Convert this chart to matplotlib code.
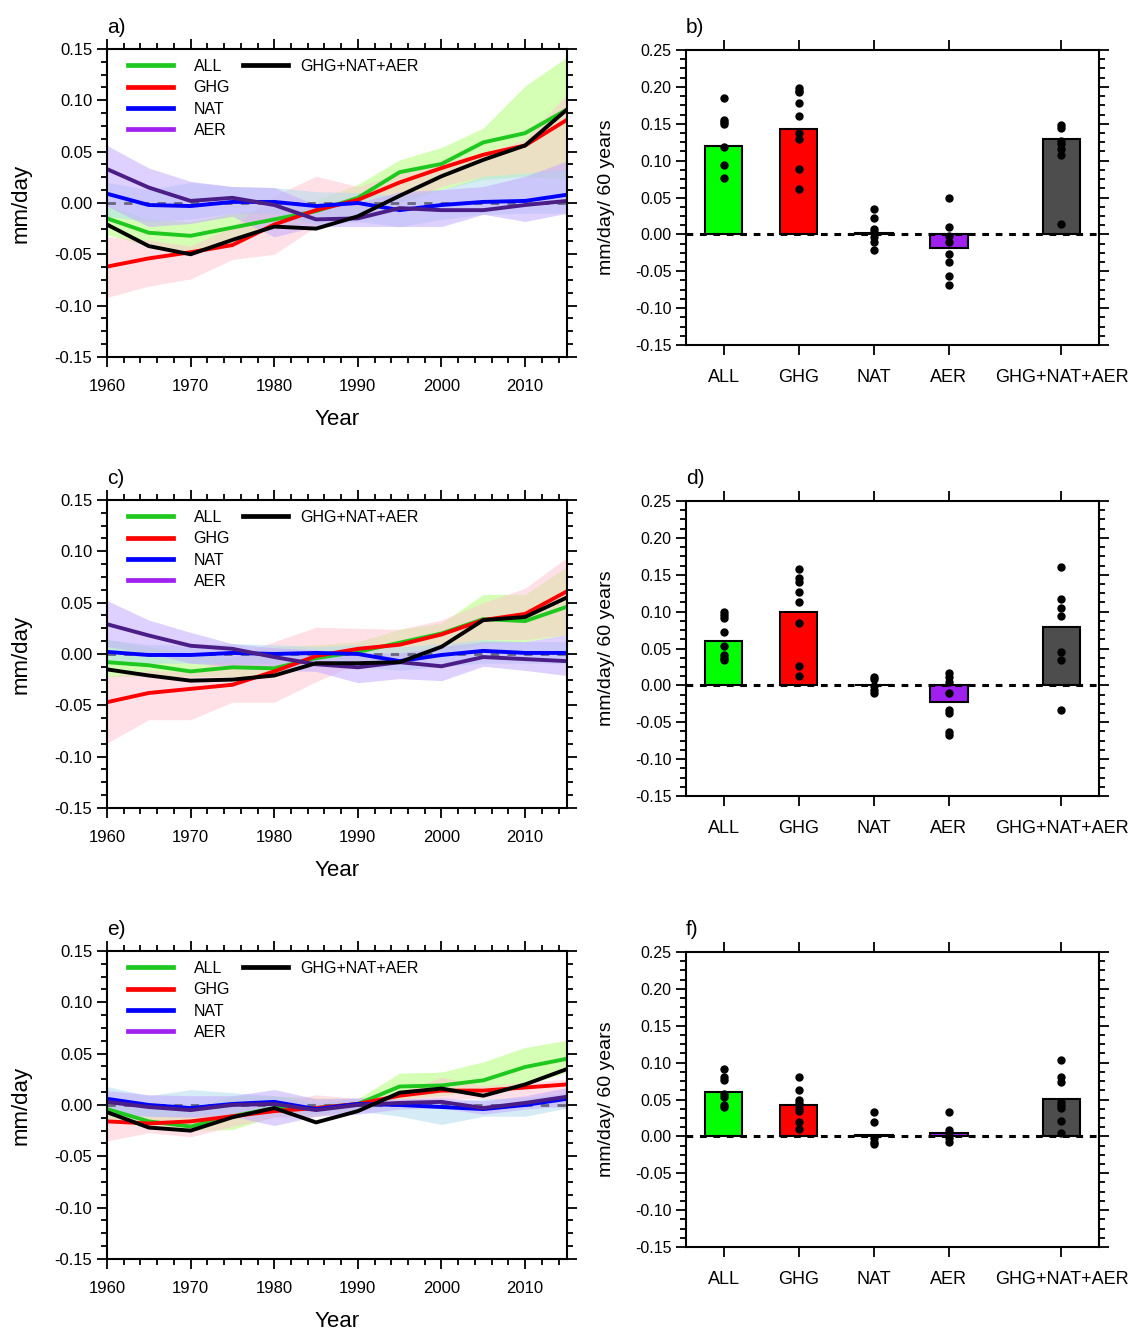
import matplotlib.pyplot as plt
from matplotlib.lines import Line2D
from matplotlib.ticker import MultipleLocator

plt.rcParams['font.family'] = ['Liberation Sans', 'DejaVu Sans']

# ---- time series data (mm/day) ----
years = [1960, 1965, 1970, 1975, 1980, 1985, 1990, 1995, 2000, 2005, 2010, 2015]

# panel a
a_all = [-0.015, -0.029, -0.032, -0.024, -0.016, -0.008, 0.005, 0.030, 0.038, 0.059, 0.068, 0.091]
a_ghg = [-0.062, -0.054, -0.048, -0.041, -0.021, -0.007, 0.003, 0.020, 0.034, 0.047, 0.056, 0.081]
a_nat = [0.009, -0.002, -0.003, 0.001, 0.001, -0.003, 0.000, -0.007, -0.002, 0.001, 0.002, 0.008]
a_aer = [0.033, 0.015, 0.002, 0.005, -0.002, -0.016, -0.015, -0.005, -0.007, -0.007, -0.002, 0.002]
a_sum = [-0.021, -0.042, -0.050, -0.036, -0.023, -0.025, -0.013, 0.007, 0.026, 0.042, 0.056, 0.091]
a_all_hi = [-0.002, -0.016, -0.018, -0.010, -0.005, 0.003, 0.018, 0.042, 0.054, 0.073, 0.114, 0.142]
a_all_lo = [-0.031, -0.042, -0.047, -0.036, -0.026, -0.018, -0.010, 0.000, 0.013, 0.023, 0.026, 0.023]
a_ghg_hi = [-0.033, -0.036, -0.042, -0.023, 0.007, 0.026, 0.016, 0.029, 0.039, 0.049, 0.062, 0.106]
a_ghg_lo = [-0.092, -0.081, -0.074, -0.055, -0.050, -0.023, -0.013, 0.000, 0.016, 0.026, 0.029, 0.031]
a_nat_hi = [0.020, 0.013, 0.020, 0.016, 0.015, 0.011, 0.010, 0.007, 0.013, 0.026, 0.029, 0.033]
a_nat_lo = [-0.013, -0.018, -0.016, -0.010, -0.010, -0.021, -0.018, -0.023, -0.016, -0.011, -0.010, -0.010]
a_aer_hi = [0.056, 0.034, 0.021, 0.016, 0.015, -0.002, 0.000, 0.011, 0.013, 0.016, 0.026, 0.041]
a_aer_lo = [-0.003, -0.023, -0.020, -0.013, -0.033, -0.023, -0.023, -0.023, -0.023, -0.011, -0.018, -0.010]

# panel c
c_all = [-0.008, -0.011, -0.017, -0.013, -0.014, -0.004, 0.002, 0.011, 0.020, 0.034, 0.032, 0.046]
c_ghg = [-0.047, -0.038, -0.034, -0.030, -0.017, -0.002, 0.005, 0.009, 0.019, 0.033, 0.039, 0.061]
c_nat = [0.002, -0.001, -0.001, 0.001, 0.000, 0.001, 0.000, -0.007, -0.001, 0.003, 0.001, 0.001]
c_aer = [0.029, 0.018, 0.008, 0.005, -0.003, -0.010, -0.013, -0.008, -0.012, -0.003, -0.005, -0.007]
c_sum = [-0.015, -0.021, -0.026, -0.025, -0.021, -0.009, -0.009, -0.008, 0.007, 0.033, 0.036, 0.055]
c_all_hi = [0.014, 0.007, 0.001, -0.004, 0.007, 0.009, 0.012, 0.024, 0.030, 0.058, 0.058, 0.085]
c_all_lo = [-0.022, -0.022, -0.022, -0.022, -0.022, -0.011, -0.009, -0.006, 0.001, 0.010, 0.012, 0.019]
c_ghg_hi = [-0.022, -0.016, -0.017, -0.003, 0.012, 0.026, 0.025, 0.024, 0.033, 0.050, 0.064, 0.094]
c_ghg_lo = [-0.087, -0.064, -0.064, -0.047, -0.047, -0.027, -0.009, -0.006, 0.004, 0.014, 0.014, 0.019]
c_nat_hi = [0.014, 0.009, 0.009, 0.010, 0.009, 0.007, 0.009, 0.007, 0.010, 0.014, 0.012, 0.012]
c_nat_lo = [-0.009, -0.009, -0.009, -0.009, -0.009, -0.009, -0.012, -0.016, -0.012, -0.009, -0.009, -0.009]
c_aer_hi = [0.052, 0.033, 0.021, 0.010, 0.006, 0.004, 0.001, 0.001, 0.007, 0.012, 0.012, 0.019]
c_aer_lo = [0.007, 0.001, -0.009, -0.012, -0.016, -0.017, -0.028, -0.024, -0.026, -0.012, -0.016, -0.021]

# panel e
e_all = [-0.004, -0.016, -0.021, -0.011, -0.003, -0.003, 0.001, 0.018, 0.019, 0.024, 0.037, 0.045]
e_ghg = [-0.016, -0.018, -0.016, -0.011, -0.006, -0.003, 0.001, 0.009, 0.014, 0.014, 0.017, 0.020]
e_nat = [0.006, 0.000, -0.003, 0.001, 0.003, -0.004, 0.001, 0.000, -0.002, -0.004, 0.000, 0.006]
e_aer = [0.003, -0.002, -0.005, 0.000, 0.001, -0.005, 0.000, 0.002, 0.003, -0.003, 0.002, 0.008]
e_sum = [-0.007, -0.022, -0.025, -0.012, -0.003, -0.017, -0.006, 0.012, 0.016, 0.009, 0.020, 0.035]
e_all_hi = [0.009, 0.002, -0.004, 0.009, 0.009, 0.007, 0.006, 0.031, 0.032, 0.042, 0.056, 0.063]
e_all_lo = [-0.014, -0.021, -0.025, -0.024, -0.011, -0.011, -0.004, 0.006, 0.009, 0.014, 0.019, 0.032]
e_ghg_hi = [-0.006, -0.011, -0.008, -0.003, 0.002, 0.010, 0.006, 0.012, 0.027, 0.019, 0.022, 0.025]
e_ghg_lo = [-0.035, -0.027, -0.031, -0.021, -0.012, -0.011, -0.006, 0.001, 0.006, 0.006, 0.002, -0.004]
e_nat_hi = [0.018, 0.009, 0.015, 0.012, 0.009, 0.002, 0.006, 0.004, 0.002, 0.006, 0.007, 0.012]
e_nat_lo = [-0.008, -0.011, -0.011, -0.008, -0.004, -0.009, -0.006, -0.011, -0.019, -0.011, -0.011, -0.003]
e_aer_hi = [0.014, 0.010, 0.009, 0.009, 0.015, 0.006, 0.007, 0.006, 0.007, 0.004, 0.009, 0.017]
e_aer_lo = [-0.008, -0.011, -0.012, -0.011, -0.020, -0.011, -0.009, -0.004, -0.003, -0.009, -0.004, -0.001]

# ---- bar data (mm/day / 60 years) ----
categories = ['ALL', 'GHG', 'NAT', 'AER', 'GHG+NAT+AER']
cat_pos = [1, 2, 3, 4, 5.5]

b_means = [0.120, 0.143, 0.002, -0.019, 0.129]
b_members = [
    [0.185, 0.155, 0.152, 0.150, 0.118, 0.094, 0.076],
    [0.198, 0.195, 0.193, 0.178, 0.160, 0.138, 0.129, 0.088, 0.062],
    [0.034, 0.022, 0.007, 0.003, -0.004, -0.011, -0.021],
    [0.049, 0.010, -0.002, -0.010, -0.026, -0.037, -0.057, -0.068],
    [0.148, 0.144, 0.127, 0.122, 0.116, 0.107, 0.014],
]
d_means = [0.060, 0.100, 0.001, -0.023, 0.079]
d_members = [
    [0.100, 0.096, 0.092, 0.072, 0.054, 0.041, 0.037, 0.034],
    [0.158, 0.145, 0.140, 0.127, 0.113, 0.085, 0.026, 0.013],
    [0.012, 0.008, -0.001, -0.006, -0.011],
    [0.017, 0.011, 0.005, -0.011, -0.034, -0.038, -0.063, -0.067],
    [0.160, 0.117, 0.105, 0.094, 0.045, 0.034, -0.033],
]
f_means = [0.060, 0.043, 0.002, 0.005, 0.051]
f_members = [
    [0.092, 0.081, 0.077, 0.057, 0.053, 0.042, 0.040],
    [0.081, 0.063, 0.050, 0.045, 0.038, 0.034, 0.020, 0.010],
    [0.033, 0.019, -0.002, -0.007, -0.011],
    [0.033, 0.009, 0.005, -0.002, -0.008],
    [0.103, 0.081, 0.074, 0.047, 0.042, 0.038, 0.021, 0.004],
]

line_colors = {'ALL': '#1ec81e', 'GHG': '#ff0000', 'NAT': '#0000ff',
               'AER': '#4b1e87', 'SUM': '#000000'}
band_colors = {'ALL': '#b4ff78', 'GHG': '#ffc8d2', 'NAT': '#b4dcf0', 'AER': '#c3aaff'}
bar_colors = ['#00ff00', '#ff0000', '#0000ff', '#a020f0', '#4d4d4d']

fig = plt.figure(figsize=(11.33, 13.3), dpi=100)

line_rects = [[0.0944, 0.7316, 0.406, 0.2316],
              [0.0944, 0.3925, 0.406, 0.2316],
              [0.0944, 0.0534, 0.406, 0.2316]]
bar_rects = [[0.6055, 0.7406, 0.3645, 0.2218],
             [0.6055, 0.4015, 0.3645, 0.2218],
             [0.6055, 0.0624, 0.3645, 0.2218]]


def style_axes(ax, tick_size):
    for s in ax.spines.values():
        s.set_linewidth(1.5)
    ax.tick_params(which='both', direction='out', top=True, right=True, width=1.3)
    ax.tick_params(which='major', length=7, labelsize=tick_size)
    ax.tick_params(which='minor', length=4)


def draw_lines(ax, label, series, bands):
    for key in ['ALL', 'GHG', 'NAT', 'AER']:
        lo, hi = bands[key]
        ax.fill_between(years, lo, hi, color=band_colors[key], alpha=0.55, lw=0)
    ax.plot([years[0], years[-1]], [0, 0], color='#666680', ls='--', lw=2, dashes=(3, 3))
    for key in ['ALL', 'GHG', 'NAT', 'AER', 'SUM']:
        ax.plot(years, series[key], color=line_colors[key], lw=2.8)
    ax.set_xlim(1960, 2015)
    ax.set_ylim(-0.15, 0.15)
    ax.xaxis.set_major_locator(MultipleLocator(10))
    ax.xaxis.set_minor_locator(MultipleLocator(2))
    ax.yaxis.set_major_locator(MultipleLocator(0.05))
    ax.yaxis.set_minor_locator(MultipleLocator(0.0125))
    ax.yaxis.set_major_formatter(lambda v, p: f'{v:.2f}')
    style_axes(ax, 12)
    ax.tick_params(axis='x', which='major', pad=9)
    ax.tick_params(axis='x', which='both', labeltop=False)
    ax.tick_params(axis='y', which='both', labelright=False)
    ax.set_xlabel('Year', fontsize=16)
    ax.xaxis.set_label_coords(0.5, -0.168)
    ax.set_ylabel('mm/day', fontsize=16)
    ax.yaxis.set_label_coords(-0.163, 0.5)
    ax.text(0.0, 1.04, label, transform=ax.transAxes, fontsize=15, va='bottom', ha='left')

    # legend: four forcings in one column, the sum in a second one
    leg_kw = dict(loc='upper left', frameon=False, fontsize=11.5, handlelength=2.8,
                  labelspacing=0.4, borderaxespad=0.0, borderpad=0.0)
    h1 = [Line2D([], [], color=c, lw=3.4) for c in ['#1ec81e', '#ff0000', '#0000ff', '#a020f0']]
    leg1 = ax.legend(h1, ['ALL', 'GHG', 'NAT', 'AER'], bbox_to_anchor=(0.046, 0.968),
                     handletextpad=1.3, **leg_kw)
    ax.add_artist(leg1)
    h2 = [Line2D([], [], color='black', lw=3.4)]
    ax.legend(h2, ['GHG+NAT+AER'], bbox_to_anchor=(0.296, 0.968),
              handletextpad=0.75, **leg_kw)


def draw_bars(ax, label, means, members):
    ax.bar(cat_pos, means, width=0.5, color=bar_colors, edgecolor='black', lw=1.5, zorder=2)
    ax.axhline(0, color='black', ls='--', lw=2.2, dashes=(2.2, 2.2), zorder=3)
    for x, vals in zip(cat_pos, members):
        ax.plot([x] * len(vals), vals, 'o', color='black', ms=5, zorder=4)
    ax.set_xlim(0.5, 6.0)
    ax.set_ylim(-0.15, 0.25)
    ax.set_xticks(cat_pos)
    ax.set_xticklabels(categories, fontsize=13)
    ax.yaxis.set_major_locator(MultipleLocator(0.05))
    ax.yaxis.set_minor_locator(MultipleLocator(0.0125))
    ax.yaxis.set_major_formatter(lambda v, p: f'{v:.2f}')
    style_axes(ax, 11.5)
    ax.tick_params(axis='x', which='major', pad=10, labelsize=13)
    ax.tick_params(axis='x', which='both', labeltop=False)
    ax.tick_params(axis='y', which='both', labelright=False)
    ax.set_ylabel('mm/day/ 60 years', fontsize=14)
    ax.yaxis.set_label_coords(-0.172, 0.5)
    ax.text(0.0, 1.045, label, transform=ax.transAxes, fontsize=15, va='bottom', ha='left')


line_panels = [
    ('a)', {'ALL': a_all, 'GHG': a_ghg, 'NAT': a_nat, 'AER': a_aer, 'SUM': a_sum},
     {'ALL': (a_all_lo, a_all_hi), 'GHG': (a_ghg_lo, a_ghg_hi),
      'NAT': (a_nat_lo, a_nat_hi), 'AER': (a_aer_lo, a_aer_hi)}),
    ('c)', {'ALL': c_all, 'GHG': c_ghg, 'NAT': c_nat, 'AER': c_aer, 'SUM': c_sum},
     {'ALL': (c_all_lo, c_all_hi), 'GHG': (c_ghg_lo, c_ghg_hi),
      'NAT': (c_nat_lo, c_nat_hi), 'AER': (c_aer_lo, c_aer_hi)}),
    ('e)', {'ALL': e_all, 'GHG': e_ghg, 'NAT': e_nat, 'AER': e_aer, 'SUM': e_sum},
     {'ALL': (e_all_lo, e_all_hi), 'GHG': (e_ghg_lo, e_ghg_hi),
      'NAT': (e_nat_lo, e_nat_hi), 'AER': (e_aer_lo, e_aer_hi)}),
]
bar_panels = [('b)', b_means, b_members), ('d)', d_means, d_members), ('f)', f_means, f_members)]

for rect, (label, series, bands) in zip(line_rects, line_panels):
    ax = fig.add_axes(rect)
    draw_lines(ax, label, series, bands)

for rect, (label, means, members) in zip(bar_rects, bar_panels):
    ax = fig.add_axes(rect)
    draw_bars(ax, label, means, members)

fig.savefig('out.png', dpi=100)
